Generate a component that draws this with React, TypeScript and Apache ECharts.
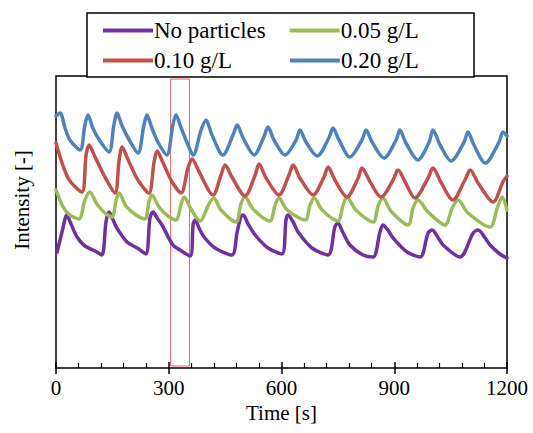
import React, { useEffect, useRef } from "react";
import * as echarts from "echarts";

const xTicks = [0, 300, 600, 900, 1200];
const seriesNames = ["No particles", "0.05 g/L", "0.10 g/L", "0.20 g/L"];
const seriesColors = ["#7030A0", "#9BBB59", "#C0504D", "#4F81BD"];

// [time s, intensity a.u.]
const noParticles: number[][] = [
  [3, 116], [16, 136], [29, 153], [40, 144], [56, 131], [77, 122], [104, 117], [122, 113],
  [133, 146], [141, 156], [152, 148], [162, 140], [189, 126], [216, 120], [239, 114],
  [250, 150], [258, 156], [269, 150], [282, 143], [311, 123], [330, 118], [357, 112],
  [365, 144], [370, 148], [383, 138], [396, 130], [423, 120], [468, 113],
  [482, 136], [492, 151], [498, 153], [511, 144], [530, 133], [564, 120], [601, 114],
  [612, 148], [617, 153], [631, 146], [644, 136], [681, 120], [724, 113],
  [742, 141], [750, 145], [764, 135], [782, 123], [817, 113], [844, 111],
  [862, 136], [870, 143], [883, 138], [897, 130], [934, 116], [969, 111],
  [990, 135], [1001, 138], [1014, 132], [1030, 123], [1075, 111],
  [1110, 135], [1123, 138], [1142, 130], [1155, 123], [1181, 114], [1200, 110],
];

const gL005: number[][] = [
  [0, 178], [19, 161], [37, 153], [61, 149], [77, 168], [90, 176], [109, 164], [130, 155],
  [149, 151], [160, 168], [168, 175], [186, 162], [213, 153], [237, 149], [247, 166],
  [255, 173], [274, 161], [298, 152], [319, 148], [333, 164], [341, 171], [359, 159],
  [383, 147], [407, 164], [420, 170], [439, 158], [479, 146], [492, 164], [503, 171],
  [524, 159], [569, 147], [583, 163], [593, 170], [615, 158], [663, 148], [676, 163],
  [687, 170], [708, 158], [750, 147], [764, 163], [774, 171], [798, 158], [844, 146],
  [857, 162], [870, 170], [891, 157], [937, 143], [950, 160], [963, 168], [990, 156],
  [1035, 143], [1054, 160], [1070, 168], [1096, 155], [1155, 141], [1174, 160],
  [1187, 171], [1200, 158],
];

const gL010: number[][] = [
  [0, 225], [19, 202], [37, 187], [69, 176], [80, 213], [88, 223], [104, 211], [130, 191],
  [157, 175], [168, 208], [176, 221], [192, 208], [218, 188], [247, 175], [261, 206],
  [269, 217], [285, 205], [309, 186], [333, 175], [351, 200], [362, 209], [381, 196],
  [418, 173], [439, 193], [450, 203], [468, 191], [503, 172], [530, 193], [540, 204],
  [559, 190], [593, 173], [620, 193], [631, 203], [649, 190], [684, 173], [713, 191],
  [724, 201], [742, 188], [774, 171], [804, 190], [814, 200], [836, 186], [865, 171],
  [897, 188], [910, 198], [929, 186], [955, 170], [990, 190], [1003, 200], [1024, 186],
  [1056, 168], [1088, 188], [1102, 198], [1123, 185], [1163, 166], [1189, 186], [1200, 192],
];

const gL020: number[][] = [
  [0, 252], [11, 255], [24, 240], [37, 228], [64, 218], [77, 243], [85, 253], [98, 240],
  [112, 230], [141, 216], [154, 243], [162, 255], [176, 242], [192, 230], [218, 215],
  [234, 243], [242, 253], [255, 240], [271, 226], [295, 213], [311, 243], [319, 253],
  [333, 240], [349, 225], [365, 213], [386, 238], [399, 248], [415, 233], [444, 213],
  [471, 233], [482, 243], [498, 230], [527, 213], [553, 231], [564, 241], [580, 228],
  [609, 213], [639, 228], [649, 238], [665, 226], [695, 212], [726, 230], [737, 240],
  [753, 228], [782, 211], [814, 228], [825, 238], [841, 226], [873, 210], [905, 228],
  [915, 238], [931, 225], [963, 208], [993, 226], [1003, 238], [1022, 223], [1051, 207],
  [1086, 226], [1096, 236], [1112, 223], [1142, 205], [1179, 226], [1189, 236], [1200, 232],
];

const highlightRange = [305, 355];

const seriesData = [noParticles, gL005, gL010, gL020];

const FONT = "'Liberation Serif', 'Times New Roman', serif";

export default function App() {
  const ref = useRef<HTMLDivElement>(null);
  useEffect(() => {
    document.body.style.margin = "0";
    if (!ref.current) return;
    const chart = echarts.init(ref.current, null, { renderer: "svg" });
    const series: any[] = seriesData.map((d, i) => ({
      name: seriesNames[i],
      type: "line",
      data: d,
      showSymbol: false,
      symbol: "none",
      smooth: 0.3,
      lineStyle: { color: seriesColors[i], width: 3.5, cap: "round", join: "round" },
      itemStyle: { color: seriesColors[i] },
      z: 2 + i,
    }));
    series[0].markArea = {
      silent: true,
      itemStyle: { color: "rgba(0,0,0,0)", borderColor: "#E06666", borderWidth: 1 },
      data: [[{ xAxis: highlightRange[0], yAxis: 2 }, { xAxis: highlightRange[1], yAxis: 289 }]],
    };
    const legendBase = {
      left: 98,
      icon: "rect",
      itemWidth: 50,
      itemHeight: 4,
      z: 10,
      textStyle: { fontFamily: FONT, fontSize: 23, color: "#000", padding: [0, 0, 0, -4] },
    };
    chart.setOption({
      animation: false,
      backgroundColor: "#ffffff",
      grid: {
        left: 56,
        top: 76,
        right: 26,
        bottom: 65,
        show: true,
        borderColor: "#000",
        borderWidth: 1.5,
        backgroundColor: "transparent",
      },
      legend: [
        { ...legendBase, data: [seriesNames[0], seriesNames[1]], top: 14, itemGap: 24 },
        { ...legendBase, data: [seriesNames[2], seriesNames[3]], top: 44, itemGap: 58 },
      ],
      graphic: [
        {
          type: "rect",
          z: 5,
          shape: { x: 87, y: 13, width: 387, height: 64 },
          style: { fill: "#fff", stroke: "#000", lineWidth: 1.5 },
        },
      ],
      xAxis: [
        {
          type: "value",
          min: xTicks[0],
          max: xTicks[xTicks.length - 1],
          interval: 300,
          position: "bottom",
          name: "Time [s]",
          nameLocation: "middle",
          nameGap: 30,
          nameTextStyle: { fontFamily: FONT, fontSize: 21, color: "#000" },
          axisLine: { show: false },
          axisTick: { show: true, inside: true, length: 6, lineStyle: { color: "#000", width: 1.5 } },
          minorTick: { show: true, splitNumber: 5, length: 5, lineStyle: { color: "#000", width: 1.2 } },
          splitLine: { show: false },
          axisLabel: {
            fontFamily: FONT,
            fontSize: 21,
            color: "#000",
            margin: 9,
            formatter: (v: number) => String(v),
          },
        },
        {
          type: "value",
          min: xTicks[0],
          max: xTicks[xTicks.length - 1],
          interval: 300,
          position: "bottom",
          axisLine: { show: false },
          axisTick: { show: true, inside: false, length: 6, lineStyle: { color: "#000", width: 1.5 } },
          axisLabel: { show: false },
          splitLine: { show: false },
        },
      ],
      yAxis: {
        type: "value",
        min: 0,
        max: 292,
        name: "Intensity [-]",
        nameLocation: "middle",
        nameRotate: 90,
        nameGap: 24,
        nameTextStyle: { fontFamily: FONT, fontSize: 21, color: "#000", padding: [0, 0, 0, 44] },
        axisLine: { show: false },
        axisTick: { show: false },
        axisLabel: { show: false },
        splitLine: { show: false },
      },
      series,
    });
    return () => chart.dispose();
  }, []);
  return <div ref={ref} style={{ width: 533, height: 433 }} />;
}
